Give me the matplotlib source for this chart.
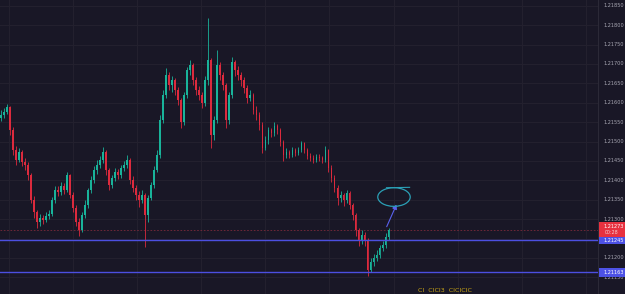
import numpy as np
import matplotlib
matplotlib.use("Agg")
import matplotlib.pyplot as plt
from matplotlib.patches import Ellipse, FancyArrowPatch, Rectangle
import matplotlib.transforms as mtransforms

# ---------------- data ----------------
first_open = 1.21561
closes = [
    1.21568, 1.21576, 1.21589, 1.21530, 1.21478, 1.21452, 1.21473, 1.21447, 1.21439, 1.21413,
    1.21349, 1.21318, 1.21292, 1.21303, 1.21297, 1.21308, 1.21313, 1.21349, 1.21375, 1.21370,
    1.21385, 1.21375, 1.21413, 1.21362, 1.21328, 1.21292, 1.21272, 1.21310, 1.21336, 1.21375,
    1.21401, 1.21426, 1.21439, 1.21452, 1.21473, 1.21426, 1.21388, 1.21406, 1.21421, 1.21413,
    1.21432, 1.21439, 1.21452, 1.21401, 1.21380, 1.21362, 1.21349, 1.21362, 1.21310, 1.21354,
    1.21388, 1.21426, 1.21465, 1.21555, 1.21620, 1.21671, 1.21646, 1.21659, 1.21633, 1.21607,
    1.21550, 1.21620, 1.21684, 1.21697, 1.21659, 1.21633, 1.21620, 1.21599, 1.21659, 1.21710,
    1.21517, 1.21555, 1.21697, 1.21671, 1.21646, 1.21555, 1.21620, 1.21705, 1.21684, 1.21671,
    1.21659, 1.21638, 1.21612, 1.21620, 1.21581, 1.21568, 1.21542, 1.21483, 1.21504, 1.21530,
    1.21522, 1.21540, 1.21530, 1.21499, 1.21465, 1.21473, 1.21465, 1.21478, 1.21470, 1.21478,
    1.21496, 1.21478, 1.21463, 1.21457, 1.21452, 1.21460, 1.21457, 1.21452, 1.21478, 1.21432,
    1.21406, 1.21380, 1.21354, 1.21362, 1.21349, 1.21367, 1.21336, 1.21310, 1.21272, 1.21246,
    1.21259, 1.21246, 1.21168, 1.21189, 1.21199, 1.21207, 1.21225, 1.21233, 1.21254, 1.21273,
]
highs = [
    1.21581, 1.21586, 1.21597, 1.21592, 1.21537, 1.21488, 1.21483, 1.21478, 1.21457, 1.21447,
    1.21419, 1.21359, 1.21323, 1.21313, 1.21310, 1.21318, 1.21323, 1.21357, 1.21385, 1.21385,
    1.21395, 1.21393, 1.21421, 1.21416, 1.21370, 1.21336, 1.21303, 1.21318, 1.21349, 1.21380,
    1.21411, 1.21437, 1.21452, 1.21463, 1.21486, 1.21478, 1.21432, 1.21413, 1.21432, 1.21429,
    1.21439, 1.21450, 1.21465, 1.21457, 1.21411, 1.21388, 1.21372, 1.21375, 1.21367, 1.21362,
    1.21395, 1.21437, 1.21478, 1.21568, 1.21633, 1.21690, 1.21679, 1.21669, 1.21664, 1.21641,
    1.21612, 1.21628, 1.21692, 1.21710, 1.21702, 1.21666, 1.21643, 1.21628, 1.21669, 1.21819,
    1.21715, 1.21566, 1.21736, 1.21705, 1.21679, 1.21651, 1.21628, 1.21718, 1.21710, 1.21695,
    1.21679, 1.21666, 1.21646, 1.21633, 1.21625, 1.21592, 1.21576, 1.21550, 1.21514, 1.21537,
    1.21535, 1.21550, 1.21545, 1.21535, 1.21504, 1.21483, 1.21478, 1.21486, 1.21483, 1.21486,
    1.21501, 1.21499, 1.21483, 1.21470, 1.21465, 1.21468, 1.21468, 1.21463, 1.21488, 1.21481,
    1.21439, 1.21413, 1.21388, 1.21372, 1.21367, 1.21375, 1.21372, 1.21341, 1.21315, 1.21277,
    1.21272, 1.21266, 1.21251, 1.21199, 1.21210, 1.21220, 1.21233, 1.21243, 1.21264, 1.21277,
]
lows = [
    1.21553, 1.21561, 1.21571, 1.21517, 1.21465, 1.21439, 1.21447, 1.21437, 1.21426, 1.21401,
    1.21341, 1.21303, 1.21277, 1.21282, 1.21287, 1.21292, 1.21300, 1.21308, 1.21341, 1.21359,
    1.21362, 1.21364, 1.21370, 1.21354, 1.21318, 1.21282, 1.21256, 1.21266, 1.21303, 1.21328,
    1.21367, 1.21393, 1.21416, 1.21432, 1.21444, 1.21413, 1.21375, 1.21380, 1.21398, 1.21403,
    1.21406, 1.21424, 1.21432, 1.21390, 1.21370, 1.21349, 1.21331, 1.21341, 1.21228, 1.21292,
    1.21349, 1.21380, 1.21421, 1.21457, 1.21548, 1.21612, 1.21633, 1.21628, 1.21620, 1.21594,
    1.21535, 1.21542, 1.21612, 1.21671, 1.21646, 1.21620, 1.21607, 1.21586, 1.21592, 1.21646,
    1.21483, 1.21504, 1.21548, 1.21659, 1.21633, 1.21535, 1.21545, 1.21612, 1.21669, 1.21659,
    1.21643, 1.21625, 1.21599, 1.21604, 1.21571, 1.21555, 1.21530, 1.21470, 1.21478, 1.21493,
    1.21512, 1.21514, 1.21519, 1.21488, 1.21450, 1.21457, 1.21457, 1.21460, 1.21463, 1.21465,
    1.21473, 1.21470, 1.21455, 1.21450, 1.21444, 1.21447, 1.21450, 1.21444, 1.21447, 1.21421,
    1.21395, 1.21370, 1.21336, 1.21344, 1.21334, 1.21341, 1.21326, 1.21297, 1.21256, 1.21230,
    1.21235, 1.21230, 1.21153, 1.21163, 1.21179, 1.21192, 1.21199, 1.21217, 1.21225, 1.21246,
]
price_ticks = [1.21850, 1.21800, 1.21750, 1.21700, 1.21650, 1.21600, 1.21550, 1.21500,
               1.21450, 1.21400, 1.21350, 1.21300, 1.21200, 1.21150]
grid_prices = [1.21850, 1.21800, 1.21750, 1.21700, 1.21650, 1.21600, 1.21550, 1.21500,
               1.21450, 1.21400, 1.21350, 1.21300, 1.21250, 1.21200, 1.21150]
last_price = 1.21273
countdown = "00:28"
level_upper = 1.21245
level_lower = 1.21163
arrow_start = (128.0, 1.21274)
arrow_end = (132.0, 1.21344)
circle_center = (130.8, 1.21357)
bottom_text = "Cl  ClCl3  ClClClC"

# ---------------- styling ----------------
BG = "#191726"
GRID = "#24212f"
UP = "#19b39a"
DOWN = "#dc2a3d"
LEVEL = "#4c4fe0"
TXT = "#a8a7b3"

W, H = 625, 294
fig = plt.figure(figsize=(W / 100, H / 100), dpi=100, facecolor=BG)
ax = fig.add_axes([0, 0, 598 / W, 1], facecolor=BG)

n = len(closes)
idx = np.arange(n)
opens = np.array([first_open] + closes[:-1])
c = np.array(closes)
hi = np.array(highs)
lo = np.array(lows)
up = c >= opens
colors = np.where(up, UP, DOWN)

ax.set_xlim(-0.33, 198.7)
ax.set_ylim(1.21107, 1.21865)

# grid
for gp in grid_prices:
    ax.axhline(gp, color=GRID, lw=0.7, zorder=0)
for gx in np.arange(2.67, 199, 21.333):
    ax.axvline(gx, color=GRID, lw=0.7, zorder=0)

# candles
ax.vlines(idx, lo, hi, colors=colors, lw=0.6, zorder=2)
body_bottom = np.minimum(opens, c)
body_h = np.maximum(np.abs(c - opens), 0.000012)
ax.bar(idx, body_h, bottom=body_bottom, width=0.58, color=colors, linewidth=0, zorder=3)

# levels
ax.axhline(level_upper, color=LEVEL, lw=1.0, zorder=4)
ax.axhline(level_lower, color=LEVEL, lw=1.0, zorder=4)
ax.axhline(last_price, color="#7a2a3a", lw=0.6, ls=(0, (2, 2)), zorder=1)

# drawing: arrow + circle
arr = FancyArrowPatch(arrow_start, arrow_end, arrowstyle="-|>,head_length=2.5,head_width=1.4",
                      color="#5a62ee", lw=0.8, zorder=5, mutation_scale=1)
ax.add_patch(arr)
ell = Ellipse(circle_center, width=10.8, height=0.00048, fill=False, ec="#2b9fb5", lw=0.9, zorder=5)
ax.add_patch(ell)
ax.plot([128.3, 136.0], [1.21381, 1.21382], color="#2b9fb5", lw=0.8, zorder=5)

for s in ax.spines.values():
    s.set_visible(False)
ax.set_xticks([])
ax.set_yticks([])

# price axis
fig.add_artist(plt.Line2D([598 / W, 598 / W], [0, 1], color="#2c2a38", lw=0.7))
trans = mtransforms.blended_transform_factory(fig.transFigure, ax.transData)
for p in price_ticks:
    fig.text(603 / W, p, f"{p:.5f}", transform=trans, color=TXT, fontsize=3.6,
             va="center", ha="left")


def price_box(p0, p1, fc):
    fig.add_artist(Rectangle((599 / W, p0), 26 / W, p1 - p0, transform=trans,
                             facecolor=fc, edgecolor="none", zorder=6))


price_box(1.21255, 1.21293, "#e8313f")
fig.text(603 / W, 1.21282, f"{last_price:.5f}", transform=trans, color="white",
         fontsize=3.6, va="center", ha="left", zorder=7)
fig.text(605 / W, 1.21265, countdown, transform=trans, color="#f4d0d3",
         fontsize=3.4, va="center", ha="left", zorder=7)
price_box(1.21235, 1.21255, "#4d52e6")
fig.text(603 / W, level_upper, f"{level_upper:.5f}", transform=trans, color="white",
         fontsize=3.6, va="center", ha="left", zorder=7)
price_box(1.21152, 1.21173, "#4d52e6")
fig.text(603 / W, level_lower, f"{level_lower:.5f}", transform=trans, color="white",
         fontsize=3.6, va="center", ha="left", zorder=7)

# yellow text near the bottom edge
fig.text(418 / W, 0.5 / H, bottom_text, color="#c9a516", fontsize=4.6,
         va="bottom", ha="left")

fig.savefig("out.png", dpi=100, facecolor=BG)
